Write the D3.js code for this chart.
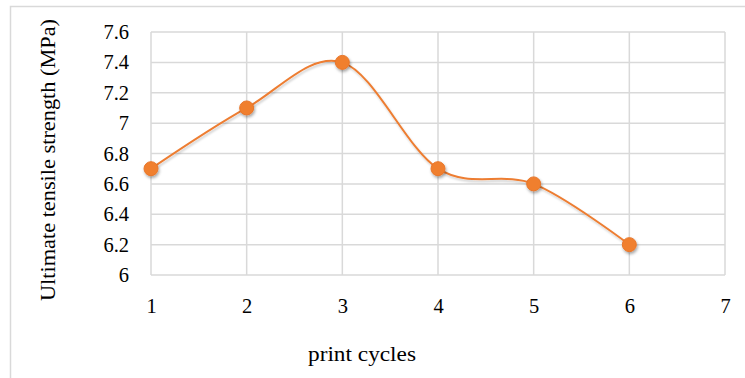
<!DOCTYPE html>
<html><head><meta charset="utf-8">
<script src="https://cdn.jsdelivr.net/npm/d3@7"></script>
<style>body{margin:0;background:#fff}svg{display:block}</style>
</head><body>
<script>
const cycles = [1, 2, 3, 4, 5, 6];
const strength = [6.7, 7.1, 7.4, 6.7, 6.6, 6.2];
const xTicks = [1, 2, 3, 4, 5, 6, 7];
const yTicks = [6, 6.2, 6.4, 6.6, 6.8, 7, 7.2, 7.4, 7.6];
const xTitle = "print cycles";
const yTitle = "Ultimate tensile strength (MPa)";

const W = 745, H = 378;
const svg = d3.select("body").append("svg").attr("width", W).attr("height", H);
const defs = svg.append("defs");
const f = defs.append("filter").attr("id", "sh").attr("x", "-50%").attr("y", "-50%").attr("width", "200%").attr("height", "200%");
f.append("feDropShadow").attr("dx", 1).attr("dy", 2).attr("stdDeviation", 1.5).attr("flood-color", "#000").attr("flood-opacity", 0.35);
const f2 = defs.append("filter").attr("id", "sh2").attr("x", "-10%").attr("y", "-10%").attr("width", "120%").attr("height", "120%");
f2.append("feDropShadow").attr("dx", 1).attr("dy", 2).attr("stdDeviation", 1.2).attr("flood-color", "#000").attr("flood-opacity", 0.2);

// chart border
svg.append("rect").attr("x", 10.5).attr("y", 6.5).attr("width", W).attr("height", H)
  .attr("fill", "none").attr("stroke", "#d9d9d9").attr("stroke-width", 1.5);

const x = d3.scaleLinear().domain([1, 7]).range([151, 725]);
const y = d3.scaleLinear().domain([6, 7.6]).range([275, 32]);
const font = "'Liberation Serif', 'DejaVu Serif', serif";

// grid
const g = svg.append("g");
g.selectAll(".hg").data(yTicks).join("line")
  .attr("x1", x(1)).attr("x2", x(7)).attr("y1", d => y(d)).attr("y2", d => y(d))
  .attr("stroke", "#d9d9d9").attr("stroke-width", 1.5);
g.selectAll(".vg").data(xTicks).join("line")
  .attr("x1", d => x(d)).attr("x2", d => x(d)).attr("y1", y(6)).attr("y2", y(7.6))
  .attr("stroke", "#d9d9d9").attr("stroke-width", 1.5);

// axes via d3
const yAxis = d3.axisLeft(y).tickValues(yTicks).tickSize(0).tickPadding(22).tickFormat(d => d3.format("")(+d.toFixed(1)));
svg.append("g").attr("transform", `translate(${x(1)},0)`).call(yAxis)
  .call(s => s.select(".domain").remove())
  .selectAll("text").attr("font-family", font).attr("font-size", 20.5).attr("fill", "#000");
const xAxis = d3.axisBottom(x).tickValues(xTicks).tickSize(0).tickPadding(23).tickFormat(d3.format("d"));
svg.append("g").attr("transform", `translate(0,${y(6)})`).call(xAxis)
  .call(s => s.select(".domain").remove())
  .selectAll("text").attr("font-family", font).attr("font-size", 20.5).attr("fill", "#000");

// titles
svg.append("text").attr("x", 362).attr("y", 361).attr("text-anchor", "middle")
  .attr("font-family", font).attr("font-size", 20.5)
  .attr("textLength", 108).attr("lengthAdjust", "spacingAndGlyphs").text(xTitle);
svg.append("text").attr("transform", `translate(55,160) rotate(-90)`).attr("text-anchor", "middle")
  .attr("font-family", font).attr("font-size", 20.5)
  .attr("textLength", 282).attr("lengthAdjust", "spacingAndGlyphs").text(yTitle);

// line
const pts = cycles.map((c, i) => [c, strength[i]]);
const line = d3.line().x(d => x(d[0])).y(d => y(d[1])).curve(d3.curveCardinal.tension(0));
svg.append("path").datum(pts).attr("d", line).attr("fill", "none")
  .attr("stroke", "#ED7D31").attr("stroke-width", 2).attr("filter", "url(#sh2)");
svg.selectAll(".m").data(pts).join("circle")
  .attr("cx", d => x(d[0])).attr("cy", d => y(d[1])).attr("r", 7)
  .attr("fill", "#F07F2E").attr("stroke", "#E8762A").attr("stroke-width", 1)
  .attr("filter", "url(#sh)");
</script>
</body></html>
